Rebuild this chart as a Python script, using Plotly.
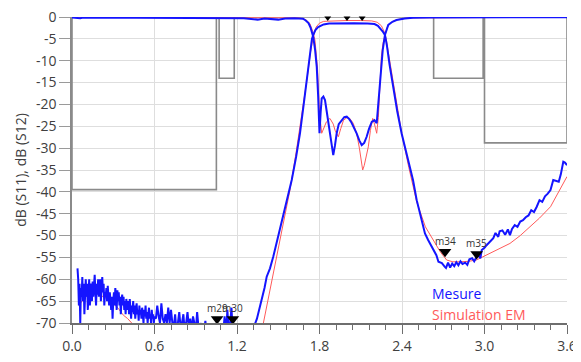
import numpy as np
import plotly.graph_objects as go

# ---------------- data ----------------
# Measured S21 low-frequency noise floor (0.040 -> 0.600 GHz, step 0.005)
s21_meas_noise_a = [
    -57.5, -60, -66, -61, -70, -62, -64, -59.5, -65, -61, -68, -63, -60,
    -64, -61, -67, -62, -60, -66, -63, -61, -65, -60.5, -64, -62, -59, -63, -66, -61, -63.5, -60, -64, -62,
    -60, -65, -62, -59.5, -63, -61, -66, -63, -64, -62, -65, -61.5, -64, -66, -63, -65, -67, -64, -69, -65,
    -63, -66, -62, -64, -67, -62.5, -65, -63, -66, -64, -68, -65, -63.5, -66, -64, -67, -65, -68, -64.5, -66,
    -67, -65, -68, -64.5, -66, -69, -66, -67.5, -65, -68, -66, -69, -67, -65.5, -68, -67, -69.5, -66, -68, -67,
    -69, -66.5, -68, -70, -67, -68.5, -66, -69, -67.5, -70, -68, -66.5, -69, -68, -70, -67, -69, -68, -70, -68.5,
]
# Measured S21 (0.61 -> 1.32 GHz, step 0.01)
s21_meas_noise_b = [
    -69, -66, -68.5, -70, -65.5, -69, -70, -68, -70, -66.5,
    -70, -67, -70, -71, -68, -72, -70, -67.5, -71, -70,
    -68, -72, -70, -67.5, -71, -69, -72, -68.5, -70, -72,
    -67.5, -71, -72, -70, -73, -72, -69.5, -73, -72, -71,
    -73, -72, -70.5, -73, -72, -74, -73, -71, -73, -72,
    -68.5, -73, -67, -72, -70, -66.5, -73, -72, -74, -73,
    -74, -73, -75, -74, -73, -75, -74, -73, -74, -72, -71, -72,
]
# Measured S21 above 1.32 GHz
s21_meas_f_c = [1.33, 1.345, 1.355, 1.37, 1.39, 1.40, 1.416, 1.44, 1.464, 1.49, 1.51, 1.535, 1.56, 1.598,
                1.63, 1.658, 1.685, 1.707, 1.73, 1.745, 1.755, 1.77, 1.79, 1.81, 1.83, 1.87, 1.95, 2.05,
                2.15, 2.2, 2.225, 2.245, 2.262, 2.276, 2.29, 2.31, 2.337, 2.365, 2.397, 2.44, 2.48, 2.507,
                2.53, 2.567, 2.59, 2.63, 2.65, 2.665, 2.69, 2.71, 2.72, 2.735, 2.75, 2.765, 2.78, 2.795,
                2.81, 2.825, 2.84, 2.86, 2.875, 2.89, 2.91, 2.925, 2.94, 2.955, 2.97, 2.98, 3.0, 3.015,
                3.04, 3.064, 3.08, 3.1, 3.11, 3.13, 3.15, 3.17, 3.185, 3.2, 3.22, 3.24, 3.26, 3.28, 3.3,
                3.32, 3.34, 3.36, 3.38, 3.4, 3.42, 3.44, 3.46, 3.48, 3.5, 3.52, 3.54, 3.555, 3.573, 3.585, 3.6]
s21_meas_db_c = [-70.3, -69, -67.8, -66, -63.2, -62, -59.4, -57.5, -54.8, -51.5, -48.7, -45.5, -42.6, -37.3,
                 -32, -26.6, -20, -14.4, -8.3, -5, -4.1, -3, -2.3, -1.9, -1.7, -1.5, -1.45, -1.45,
                 -1.5, -1.6, -2, -2.7, -3.4, -4.1, -6.5, -11, -16.7, -21.5, -26.6, -32, -37.3, -41.9,
                 -44.9, -49.5, -51, -53.3, -54.5, -56, -56.3, -57.1, -57.4, -56.2, -57.3, -56.4, -57, -56.1,
                 -56.8, -55.9, -56.5, -56.2, -56.7, -55.4, -55.2, -55.9, -55.0, -54.5, -55.2, -53.3, -52.8, -52.2,
                 -51.4, -50.6, -49.4, -50.3, -49, -48.8, -49.8, -48.6, -49.9, -48.5, -47.6, -48, -46.8, -46.5, -45.8,
                 -45.4, -44.2, -44.6, -43.4, -41.9, -42.3, -41, -40.4, -39.6, -37.3, -37.5, -37.7, -36, -33.1, -33.3, -33.9]

# Measured S11
s11_meas_f = [0.0, 0.06, 0.08, 0.3, 0.6, 0.9, 1.1, 1.25, 1.35, 1.4, 1.5, 1.55, 1.62, 1.68, 1.7, 1.72, 1.735,
              1.743, 1.755, 1.768, 1.78, 1.79, 1.8, 1.808, 1.816, 1.828, 1.84, 1.852, 1.865, 1.88, 1.9,
              1.912, 1.925, 1.94, 1.96, 1.98, 1.998, 2.015, 2.03, 2.05, 2.07, 2.09, 2.107, 2.125, 2.143,
              2.16, 2.18, 2.2, 2.216, 2.228, 2.24, 2.25, 2.26, 2.276, 2.29, 2.3, 2.33, 2.36, 2.42, 2.48,
              2.6, 3.0, 3.3, 3.6]
s11_meas_db = [-0.1, -0.3, -0.1, -0.15, -0.2, -0.2, -0.25, -0.3, -0.6, -0.35, -0.6, -0.35, -0.3, -0.4, -0.8, -1.4, -2.4,
               -3.4, -4.6, -7.5, -11.4, -18, -26.6, -22, -18.6, -18.2, -19, -21.5, -24.3, -28, -31.6,
               -29.5, -26.6, -24.5, -23.6, -22.9, -22.8, -23.3, -24, -25.3, -26.6, -28.3, -29.3, -28.8, -27.4,
               -25.6, -24, -23.6, -24.3, -19.7, -15.2, -12.1, -7.5, -4.1, -2.5, -1.8, -1.1, -0.7, -0.35, -0.15,
               -0.1, -0.1, -0.05, -0.05]

# Simulated (EM) S11
s11_sim_f = [0.0, 0.6, 1.2, 1.65, 1.7, 1.73, 1.75, 1.767, 1.786, 1.8, 1.816, 1.83, 1.85, 1.876, 1.9, 1.913,
             1.937, 1.955, 1.975, 2.0, 2.02, 2.045, 2.07, 2.09, 2.105, 2.114, 2.125, 2.14, 2.155, 2.17,
             2.187, 2.2, 2.216, 2.228, 2.235, 2.243, 2.25, 2.262, 2.276, 2.29, 2.31, 2.34, 2.38, 2.45, 3.6]
s11_sim_db = [-0.1, -0.1, -0.15, -0.2, -0.6, -1.5, -3.2, -5.3, -12, -22, -26.6, -25.5, -24, -23.2, -24.5, -25.9,
              -27.4, -25.5, -23.6, -23.0, -23.2, -24.3, -26.6, -30, -33.5, -35, -34, -31.5, -29.7, -26,
              -23.2, -24.5, -26.6, -23, -19, -14, -9, -6, -4.1, -2.5, -1.6, -0.9, -0.5, -0.2, -0.05]

# Simulated (EM) S21
s21_sim_f = [0.05, 0.095, 0.14, 0.18, 0.228, 0.26, 0.3, 0.34, 0.373, 0.405, 0.434, 0.47, 0.55, 0.8, 1.2,
             1.35, 1.39, 1.44, 1.49, 1.537, 1.585, 1.63, 1.68, 1.71, 1.735, 1.755, 1.775, 1.8, 1.83, 1.9,
             2.0, 2.1, 2.18, 2.22, 2.25, 2.27, 2.285, 2.3, 2.33, 2.36, 2.4, 2.45, 2.507, 2.57, 2.63, 2.68,
             2.725, 2.77, 2.82, 2.88, 2.94, 2.99, 3.04, 3.11, 3.185, 3.26, 3.33, 3.4, 3.48, 3.54, 3.6]
s21_sim_db = [-66, -64, -63.5, -63.2, -64, -64.5, -65.5, -66.8, -68.2, -69, -70, -71.5, -74, -78, -78,
              -74, -70.3, -62.5, -54.8, -47.2, -39.6, -31, -21, -14, -8, -4.5, -2.3, -1.4, -1.0, -0.85,
              -0.8, -0.8, -0.9, -1.2, -2, -3.3, -5, -8, -14, -20, -27, -34.5, -42.3, -48, -51, -53.8,
              -55.6, -56, -56, -55.9, -55.6, -54.8, -54, -53, -51.8, -50, -48, -46, -43.4, -40, -36.5]

# Specification mask (template)
mask_f = [0.0, 0.0, 1.05, 1.05, 1.07, 1.07, 1.18, 1.18, 2.63, 2.63, 2.99, 2.99, 3.0, 3.0, 3.6, 3.6, 0.0]
mask_db = [0.0, -39.5, -39.5, 0.0, 0.0, -14, -14, 0.0, 0.0, -14, -14, 0.0, 0.0, -28.8, -28.8, 0.0, 0.0]

# Markers
marker_names = ["m29", "m30", "m34", "m35"]
marker_f = [1.055, 1.17, 2.713, 2.943]
marker_db = [-69.1, -69.1, -53.7, -54.2]
top_marker_f = [1.86, 2.0, 2.11]
top_marker_db = [-0.25, -0.25, -0.25]

x_tick_vals = [0.0, 0.6, 1.2, 1.8, 2.4, 3.0, 3.6]
x_tick_text = ["0.0", "0.6", "1.2", "1.8", "2.4", "3.0", "3.6"]
y_tick_vals = list(range(0, -75, -5))
y_tick_text = [str(v) for v in y_tick_vals]

# ---------------- figure ----------------
f_a = np.round(np.arange(len(s21_meas_noise_a)) * 0.005 + 0.04, 3)
f_b = np.round(np.arange(len(s21_meas_noise_b)) * 0.01 + 0.61, 3)
s21_meas_f = list(f_a) + list(f_b) + s21_meas_f_c
s21_meas_db = s21_meas_noise_a + s21_meas_noise_b + s21_meas_db_c

BLUE = "#1414ff"
RED = "#ff5a5a"
FONT = "Open Sans"

fig = go.Figure()
fig.add_trace(go.Scatter(x=mask_f, y=mask_db, mode="lines",
                         line=dict(color="#8a8a8a", width=1.6), hoverinfo="skip", showlegend=False))
fig.add_trace(go.Scatter(x=s21_sim_f, y=s21_sim_db, mode="lines",
                         line=dict(color=RED, width=1), showlegend=False))
fig.add_trace(go.Scatter(x=s11_sim_f, y=s11_sim_db, mode="lines",
                         line=dict(color=RED, width=1), showlegend=False))
fig.add_trace(go.Scatter(x=s21_meas_f, y=s21_meas_db, mode="lines",
                         line=dict(color=BLUE, width=2), showlegend=False))
fig.add_trace(go.Scatter(x=s11_meas_f, y=s11_meas_db, mode="lines",
                         line=dict(color=BLUE, width=2), showlegend=False))
fig.add_trace(go.Scatter(x=marker_f, y=marker_db, mode="markers",
                         marker=dict(symbol="triangle-down", size=11, color="black"),
                         showlegend=False, cliponaxis=False))
fig.add_trace(go.Scatter(x=top_marker_f, y=top_marker_db, mode="markers",
                         marker=dict(symbol="triangle-down", size=6, color="black"),
                         showlegend=False, cliponaxis=False))

for name, f, db in zip(marker_names, marker_f, marker_db):
    fig.add_annotation(x=f, y=db, text=name, showarrow=False, yshift=11,
                       font=dict(family=FONT, size=10, color="#333333"))

fig.add_annotation(xref="paper", yref="paper", x=0.723, y=0.095, xanchor="left", yanchor="middle",
                   text="Mesure", showarrow=False, font=dict(family=FONT, size=14, color=BLUE))
fig.add_annotation(xref="paper", yref="paper", x=0.723, y=0.029, xanchor="left", yanchor="middle",
                   text="Simulation EM", showarrow=False, font=dict(family=FONT, size=14, color=RED))

# page body has an 8 px default margin, so the figure is sized/offset to compensate
fig.update_layout(
    width=573, height=354,
    margin=dict(l=64, r=14, t=9, b=39, autoexpand=False),
    paper_bgcolor="white", plot_bgcolor="white",
    font=dict(family=FONT, size=14, color="#404040"),
)
fig.update_xaxes(range=[0, 3.6], tickvals=x_tick_vals, ticktext=x_tick_text, automargin=False,
                 showgrid=True, gridcolor="#dedede", gridwidth=1, zeroline=False,
                 showline=True, linecolor="#6e6e6e", linewidth=1.5,
                 ticks="outside", ticklen=9, tickcolor="#6e6e6e", tickwidth=1,
                 ticklabeloverflow="allow",
                 minor=dict(dtick=0.12, tick0=0, ticks="outside", ticklen=5, tickcolor="#6e6e6e", showgrid=False),
                 tickfont=dict(family=FONT, size=14, color="#404040"))
fig.update_yaxes(range=[-70, 0], tickvals=y_tick_vals, ticktext=y_tick_text, automargin=False,
                 showgrid=True, gridcolor="#dedede", gridwidth=1, zeroline=False,
                 showline=True, linecolor="#8a8a8a", linewidth=1.5,
                 ticks="outside", ticklen=11, tickcolor="#9a9a9a", tickwidth=1,
                 ticklabeloverflow="allow",
                 tickfont=dict(family=FONT, size=14, color="#404040"),
                 title=dict(text="dB (S11), dB (S12)", font=dict(family=FONT, size=14, color="#404040"),
                            standoff=6))

fig.write_html("out.html")
